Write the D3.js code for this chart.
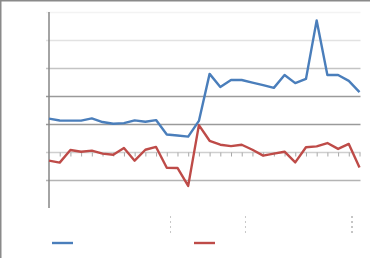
<!DOCTYPE html>
<html>
<head>
<meta charset="utf-8">
<script src="https://cdn.jsdelivr.net/npm/d3@7"></script>
<style>
  body { margin: 0; background: #fff; }
  svg { display: block; font-family: "Liberation Sans", Arial, sans-serif; }
</style>
</head>
<body>
<div id="chart"></div>
<script>
// ---------------------------------------------
// ---------          Data           -----------
// ---------------------------------------------

// 30 periods, the axis labels are not shown in the picture
var categories = d3.range(1, 31).map(String);

var seriesBlue = [11.9, 11.25, 11.2, 11.2, 12.0, 10.7, 10.1, 10.3, 11.3, 10.8,
                  11.4, 6.25, 5.9, 5.5, 11.1, 27.9, 23.2, 25.7, 25.7, 24.8,
                  23.9, 22.9, 27.5, 24.6, 26.1, 47.0, 27.5, 27.5, 25.4, 21.4];

var seriesRed = [-3.1, -3.8, 0.7, 0.1, 0.5, -0.6, -1.0, 1.4, -3.1, 0.8,
                 1.8, -5.6, -5.7, -12.1, 9.6, 4.0, 2.6, 2.1, 2.6, 0.8,
                 -1.3, -0.6, 0.1, -3.7, 1.7, 2.0, 3.2, 1.1, 2.9, -5.5];

var yTicks = [-10, 0, 10, 20, 30, 40, 50];

// group separators on the category axis (fractional category index)
var groupBreaks = [11.35, 18.35, 28.3];

// ---------------------------------------------
// ---------    Basic Chart Layout      --------
// ---------------------------------------------

var width = 370, height = 258;
var plot = { left: 49, right: 359.5, top: 12, bottom: 208 };

var blueColor = "#4a7ebb";
var redColor = "#be4b48";

var svg = d3.select("#chart")
  .append("svg")
    .attr("width", width)
    .attr("height", height);

// outer frame (only top and left edges are visible)
svg.append("line")
  .attr("x1", 0).attr("y1", 0.75).attr("x2", width).attr("y2", 0.75)
  .style("stroke", "#8a8a8a").style("stroke-width", 1.5);
svg.append("line")
  .attr("x1", 0.75).attr("y1", 0).attr("x2", 0.75).attr("y2", height)
  .style("stroke", "#8a8a8a").style("stroke-width", 1.5);

var x = d3.scalePoint().domain(categories).range([plot.left, plot.right]);
var xIndex = d3.scaleLinear().domain([0, categories.length - 1]).range([plot.left, plot.right]);
var y = d3.scaleLinear().domain([-20, 50]).range([plot.bottom, plot.top]);

// gridlines, each with its own shade
var gridShade = { "-10": "#b4b4b4", "0": "#cfcfcf", "10": "#9a9a9a", "20": "#9a9a9a",
                  "30": "#c4c4c4", "40": "#e2e2e2", "50": "#f3f3f3" };

svg.append("g")
  .selectAll("line")
  .data(yTicks)
  .join("line")
    .attr("x1", plot.left - 3)
    .attr("x2", plot.right + 1)
    .attr("y1", d => Math.round(y(d)) + 0.5)
    .attr("y2", d => Math.round(y(d)) + 0.5)
    .style("stroke", d => gridShade[d])
    .style("stroke-width", 1.5);

// category axis sits at zero, with small ticks
var xAxis = svg.append("g")
  .attr("transform", "translate(0," + (Math.round(y(0)) + 0.5) + ")")
  .call(d3.axisBottom(x).tickSize(4).tickSizeOuter(0).tickFormat(""));
xAxis.select(".domain").remove();
xAxis.selectAll(".tick line").style("stroke", "#a8a8a8");
xAxis.selectAll(".tick").filter((d, i) => i === 0).remove();

// value axis
svg.append("line")
  .attr("x1", plot.left).attr("x2", plot.left)
  .attr("y1", plot.top).attr("y2", plot.bottom)
  .style("stroke", "#868686").style("stroke-width", 1.5);

// dashed group separators below the plot
svg.append("g")
  .selectAll("line")
  .data(groupBreaks)
  .join("line")
    .attr("x1", d => xIndex(d))
    .attr("x2", d => xIndex(d))
    .attr("y1", 216)
    .attr("y2", 234)
    .style("stroke", (d, i) => i === groupBreaks.length - 1 ? "#8c8c8c" : "#c8c8c8")
    .style("stroke-width", 1)
    .style("stroke-dasharray", "2,3");

// ---------------------------------------------
// ---------       Chart Data           --------
// ---------------------------------------------

var line = d3.line()
  .x((d, i) => x(categories[i]))
  .y(d => y(d));

svg.append("path")
  .datum(seriesBlue)
  .attr("d", line)
  .style("fill", "none")
  .style("stroke", blueColor)
  .style("stroke-width", 2.4)
  .style("stroke-linejoin", "round");

svg.append("path")
  .datum(seriesRed)
  .attr("d", line)
  .style("fill", "none")
  .style("stroke", redColor)
  .style("stroke-width", 2.4)
  .style("stroke-linejoin", "round");

// legend keys (no text in the picture)
var legend = [
  { color: blueColor, x: 52 },
  { color: redColor, x: 194 }
];
svg.append("g")
  .selectAll("line")
  .data(legend)
  .join("line")
    .attr("x1", d => d.x)
    .attr("x2", d => d.x + 21)
    .attr("y1", 243)
    .attr("y2", 243)
    .style("stroke", d => d.color)
    .style("stroke-width", 2.4);
</script>
</body>
</html>
